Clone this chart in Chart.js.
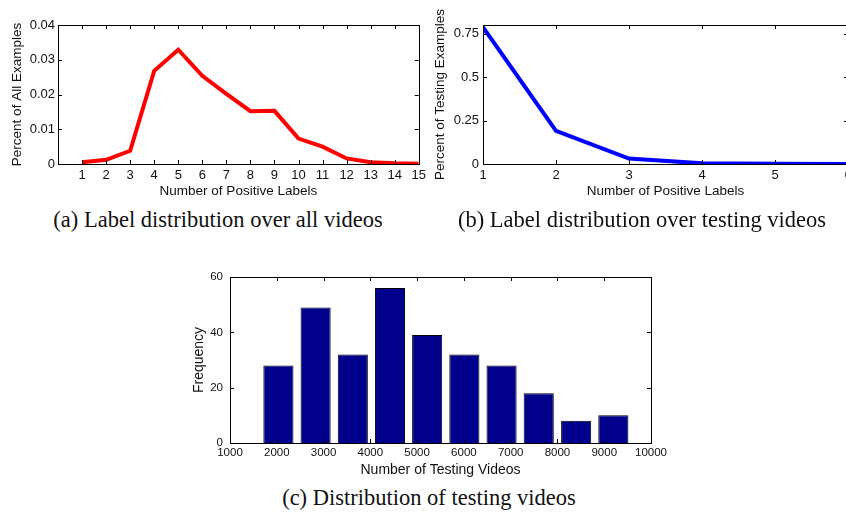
<!DOCTYPE html>
<html>
<head>
<meta charset="utf-8">
<script src="https://cdn.jsdelivr.net/npm/chart.js@4.4.1/dist/chart.umd.min.js"></script>
<style>
    html, body { margin: 0; padding: 0; width: 846px; height: 518px; overflow: hidden; background: #fff; }
    canvas { position: absolute; }
    .caption { position: absolute; font-family: 'Liberation Serif', 'Times New Roman', serif; font-size: 22.5px; color: #111; white-space: nowrap; transform: translateX(-50%); }
</style>
</head>
<body>
<canvas id="chartA" width="430" height="200" style="left:0;top:0;width:430px;height:200px"></canvas>
<canvas id="chartB" width="440" height="200" style="left:420px;top:0;width:440px;height:200px"></canvas>
<canvas id="chartC" width="490" height="220" style="left:180px;top:260px;width:490px;height:220px"></canvas>
<div class="caption" style="left:218px;top:207px">(a) Label distribution over all videos</div>
<div class="caption" style="left:642px;top:207px">(b) Label distribution over testing videos</div>
<div class="caption" style="left:429px;top:485px">(c) Distribution of testing videos</div>
<script>
// Datos
const positiveLabels = [1, 2, 3, 4, 5, 6, 7, 8, 9, 10, 11, 12, 13, 14, 15];
const percentAll = [0.0005, 0.0012, 0.0038, 0.0268, 0.0329, 0.0254, 0.0202, 0.0152, 0.0153, 0.0073, 0.0050, 0.0016, 0.0005, 0.0002, 0.0001];

const testingLabels = [1, 2, 3, 4, 5, 6];
const percentTesting = [0.787, 0.191, 0.031, 0.004, 0.001, 0.0005];

const binCenters = [2035, 2830, 3625, 4420, 5215, 6010, 6805, 7600, 8400, 9195];
const frequencies = [28, 49, 32, 56, 39, 32, 28, 18, 8, 10];

// Ticks
const ticksAx = [1, 2, 3, 4, 5, 6, 7, 8, 9, 10, 11, 12, 13, 14, 15];
const ticksAy = [0, 0.01, 0.02, 0.03, 0.04];
const ticksBx = [1, 2, 3, 4, 5, 6];
const ticksBy = [0, 0.25, 0.5, 0.75];
const ticksCx = [1000, 2000, 3000, 4000, 5000, 6000, 7000, 8000, 9000, 10000];
const ticksCy = [0, 20, 40, 60];

Chart.defaults.font.family = "'Liberation Sans', Arial, sans-serif";
Chart.defaults.color = '#111';
Chart.defaults.animation = false;

// Caja estilo MATLAB con ticks hacia adentro
const boxPlugin = {
    id: 'matlabBox',
    afterDraw(chart) {
        const { ctx, chartArea: a, scales } = chart;
        const len = 4;
        ctx.save();
        ctx.strokeStyle = '#000';
        ctx.lineWidth = 1;
        ctx.strokeRect(Math.round(a.left) + 0.5, Math.round(a.top) + 0.5, Math.round(a.right - a.left), Math.round(a.bottom - a.top));
        ctx.beginPath();
        scales.x.ticks.forEach((t, i) => {
            const px = Math.round(scales.x.getPixelForTick(i)) + 0.5;
            ctx.moveTo(px, a.bottom); ctx.lineTo(px, a.bottom - len);
            ctx.moveTo(px, a.top); ctx.lineTo(px, a.top + len);
        });
        scales.y.ticks.forEach((t, i) => {
            const py = Math.round(scales.y.getPixelForTick(i)) + 0.5;
            ctx.moveTo(a.left, py); ctx.lineTo(a.left + len, py);
            ctx.moveTo(a.right, py); ctx.lineTo(a.right - len, py);
        });
        ctx.stroke();
        ctx.restore();
    }
};

function fixedTicks(values) {
    return scale => { scale.ticks = values.map(v => ({ value: v })); };
}

function makeScales(opt) {
    return {
        x: {
            type: 'linear',
            offset: false,
            min: opt.xMin,
            max: opt.xMax,
            afterBuildTicks: fixedTicks(opt.xTicks),
            afterFit: s => { s.height = opt.xHeight; },
            grid: { display: false, drawTicks: false, offset: false },
            border: { display: false },
            ticks: { padding: opt.xPad, font: { size: opt.tickSize }, maxRotation: 0, autoSkip: false, callback: v => String(v) },
            title: { display: true, text: opt.xTitle, font: { size: opt.titleSize }, padding: { top: 0, bottom: opt.xTitlePad } }
        },
        y: {
            min: opt.yMin,
            max: opt.yMax,
            afterBuildTicks: fixedTicks(opt.yTicks),
            afterFit: s => { s.width = opt.yWidth; },
            grid: { display: false, drawTicks: false },
            border: { display: false },
            ticks: { padding: opt.yPad, font: { size: opt.tickSize }, callback: v => String(v) },
            title: { display: true, text: opt.yTitle, font: { size: opt.titleSize }, padding: { top: opt.yTitlePad, bottom: 0 } }
        }
    };
}

// (a) todos los videos
new Chart(document.getElementById('chartA'), {
    type: 'line',
    data: {
        datasets: [{
            data: positiveLabels.map((x, i) => ({ x: x, y: percentAll[i] })),
            borderColor: '#ff0000',
            borderWidth: 4,
            pointRadius: 0,
            tension: 0
        }]
    },
    options: {
        responsive: false,
        layout: { padding: { top: 25, right: 11, left: 0, bottom: 0 } },
        plugins: { legend: { display: false }, tooltip: { enabled: false } },
        scales: makeScales({
            xMin: 0, xMax: 15, xTicks: ticksAx, xHeight: 36, xPad: 4, xTitle: 'Number of Positive Labels', xTitlePad: 1,
            yMin: 0, yMax: 0.04, yTicks: ticksAy, yWidth: 58, yPad: 3, yTitle: 'Percent of All Examples', yTitlePad: 9,
            tickSize: 13, titleSize: 13.5
        })
    },
    plugins: [boxPlugin]
});

// (b) videos de prueba
new Chart(document.getElementById('chartB'), {
    type: 'line',
    data: {
        datasets: [{
            data: testingLabels.map((x, i) => ({ x: x, y: percentTesting[i] })),
            borderColor: '#0000ff',
            borderWidth: 4,
            pointRadius: 0,
            tension: 0
        }]
    },
    options: {
        responsive: false,
        layout: { padding: { top: 25, right: 12, left: 0, bottom: 0 } },
        plugins: { legend: { display: false }, tooltip: { enabled: false } },
        scales: makeScales({
            xMin: 1, xMax: 6, xTicks: ticksBx, xHeight: 36, xPad: 4, xTitle: 'Number of Positive Labels', xTitlePad: 1,
            yMin: 0, yMax: 0.8, yTicks: ticksBy, yWidth: 63, yPad: 4, yTitle: 'Percent of Testing Examples', yTitlePad: 12,
            tickSize: 13, titleSize: 13.5
        })
    },
    plugins: [boxPlugin]
});

// (c) histograma
new Chart(document.getElementById('chartC'), {
    type: 'bar',
    data: {
        datasets: [{
            data: binCenters.map((x, i) => ({ x: x, y: frequencies[i] })),
            backgroundColor: '#00008c',
            borderColor: '#000000',
            borderWidth: 1,
            barPercentage: 0.81,
            categoryPercentage: 1
        }]
    },
    options: {
        responsive: false,
        layout: { padding: { top: 17, right: 18, left: 0, bottom: 0 } },
        plugins: { legend: { display: false }, tooltip: { enabled: false } },
        scales: makeScales({
            xMin: 1000, xMax: 10000, xTicks: ticksCx, xHeight: 37, xPad: 3, xTitle: 'Number of Testing Videos', xTitlePad: 1.5,
            yMin: 0, yMax: 60, yTicks: ticksCy, yWidth: 50, yPad: 7, yTitle: 'Frequency', yTitlePad: 10.5,
            tickSize: 11.5, titleSize: 14
        })
    },
    plugins: [boxPlugin]
});
</script>
</body>
</html>
